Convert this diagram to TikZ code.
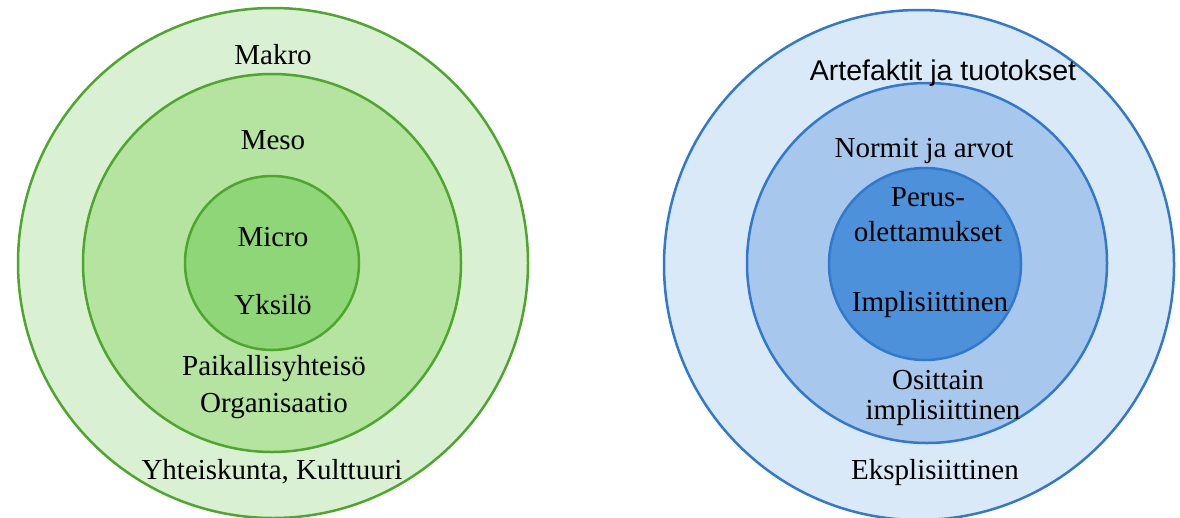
\documentclass[tikz,border=0pt]{standalone}
\usepackage{fontspec}
\setmainfont{Liberation Serif}
\newfontfamily\labelsans{Liberation Sans}

% green rings
\definecolor{gline}{RGB}{78,166,46}
\definecolor{gouter}{RGB}{218,240,211}
\definecolor{gmid}{RGB}{180,228,160}
\definecolor{ginner}{RGB}{142,214,120}
% blue rings
\definecolor{bline}{RGB}{50,120,205}
\definecolor{bouter}{RGB}{218,233,247}
\definecolor{bmid}{RGB}{167,200,236}
\definecolor{binner}{RGB}{76,145,217}

\begin{document}
\begin{tikzpicture}[x=1pt,y=-1pt,
  ring/.style={line width=2.5pt},
  greenring/.style={ring, draw=gline},
  bluering/.style={ring, draw=bline},
  lbl/.style={anchor=base, inner sep=0pt, text=black,
              font=\fontsize{29}{34}\selectfont},
  sanslbl/.style={lbl, font=\labelsans\fontsize{28.5}{33}\selectfont},
]
\useasboundingbox (0,0) rectangle (1180,517);
\fill[white] (0,0) rectangle (1180,517);

% ---- levels: micro / meso / macro ----
\draw[greenring, fill=gouter] (273,263) circle[radius=255];
\draw[greenring, fill=gmid]   (272,263) circle[radius=189];
\draw[greenring, fill=ginner] (272,263) circle[radius=87];

\node[lbl] (makro)  at (273,64)  {Makro};
\node[lbl] (meso)   at (273,149) {Meso};
\node[lbl] (micro)  at (273,246) {Micro};
\node[lbl] (yksilo) at (273,314) {Yksilö};
\node[lbl] (paik)   at (274,375) {Paikallisyhteisö};
\node[lbl] (org)    at (274,412) {Organisaatio};
\node[lbl] (yht)    at (272,479) {Yhteiskunta, Kulttuuri};

% ---- culture layers ----
\draw[bluering, fill=bouter] (919,265) circle[radius=255];
\draw[bluering, fill=bmid]   (927,263) circle[radius=180];
\draw[bluering, fill=binner] (925,264) circle[radius=96];

\node[sanslbl] (arte)  at (943,80)  {Artefaktit ja tuotokset};
\node[lbl] (normit)    at (924,157) {Normit ja arvot};
\node[lbl] (perus)     at (928,206) {Perus-};
\node[lbl] (olett)     at (928,241) {olettamukset};
\node[lbl] (impl)      at (930,311) {Implisiittinen};
\node[lbl] (osittain)  at (938,389) {Osittain};
\node[lbl] (osimpl)    at (943,419) {implisiittinen};
\node[lbl] (ekspl)     at (935,479) {Eksplisiittinen};
\end{tikzpicture}
\end{document}
